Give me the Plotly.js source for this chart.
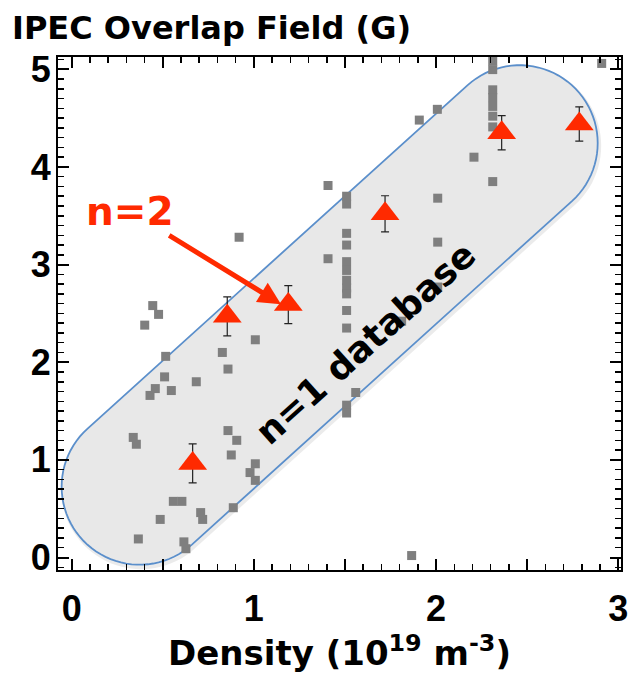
<!DOCTYPE html>
<html>
<head>
<meta charset="utf-8">
<script src="https://cdn.plot.ly/plotly-3.0.1.min.js"></script>
<style>
  html, body { margin: 0; padding: 0; background: #fff; }
  #chart { width: 631px; height: 676px; }
</style>
</head>
<body>
<div id="chart"></div>
<script>
// n=1 database shots: density (1e19 m^-3) vs IPEC overlap field (G)
const dbDensity = [
  0.445, 0.477, 0.401, 0.516, 0.510, 0.459, 0.430, 0.547, 0.684, 0.338,
  0.355, 0.558, 0.605, 0.708, 0.719, 0.486, 0.366, 0.616, 0.627,
  0.858, 0.906, 0.876, 1.008, 0.979, 1.008, 0.887, 1.008, 0.827, 0.858, 0.919,
  1.509, 1.509, 1.509, 1.509, 1.509, 1.509, 1.509, 1.509, 1.509, 1.509, 1.509, 1.509, 1.509,
  1.559, 1.407, 1.407, 1.811, 2.009, 2.009, 2.009, 2.007, 1.908, 1.866,
  2.311, 2.311, 2.311, 2.311, 2.311, 2.311, 2.311, 2.311,
  2.208, 2.909
];
const dbField = [
  2.58, 2.49, 2.38, 2.06, 1.85, 1.73, 1.66, 1.71, 1.80, 1.23,
  1.16, 0.575, 0.575, 0.46, 0.39, 0.39, 0.19, 0.16, 0.09,
  1.30, 1.20, 1.05, 0.96, 0.87, 0.79, 0.51, 2.23, 2.10, 1.93, 3.28,
  3.70, 3.62, 3.32, 3.20, 3.03, 2.94, 2.84, 2.76, 2.70, 2.53, 2.35, 1.56, 1.48,
  1.69, 3.81, 3.06, 2.42, 3.68, 3.23, 2.77, 4.59, 4.48, 0.02,
  5.085, 4.997, 4.79, 4.71, 4.62, 4.52, 4.41, 3.85,
  4.10, 5.06
];

// n=2 measurements with error bars
const n2Density = [0.664, 0.854, 1.189, 1.720, 2.360, 2.786];
const n2Field   = [0.964, 2.470, 2.590, 3.520, 4.350, 4.440];
const n2Err     = [0.200, 0.200, 0.195, 0.185, 0.175, 0.175];

// axis ticks
const xLabelVals = [0, 1, 2, 3];
const xHalfVals  = [0.5, 1.5, 2.5];
const yTickVals  = [0, 1, 2, 3, 4, 5];

// database envelope: end-cap centres (data units) and cap radius (px)
const bandStart = [0.373, 0.725];
const bandEnd   = [2.459, 4.243];
const bandRadiusPx = 78;

const xRange = [-0.075, 3.015];
const yRange = [-0.128, 5.126];
const margin = {l: 58, r: 10, t: 57, b: 106};
const figW = 631, figH = 676;
const plotW = figW - margin.l - margin.r;
const plotH = figH - margin.t - margin.b;

// Rounded "stadium" outline built in screen space so the caps stay circular
function stadiumPath(c1, c2, r, offPx) {
  const sx = plotW / (xRange[1] - xRange[0]);
  const sy = plotH / (yRange[1] - yRange[0]);
  const ox = (offPx && offPx[0]) || 0, oy = (offPx && offPx[1]) || 0;
  const p1 = [c1[0] * sx + ox, c1[1] * sy - oy];
  const p2 = [c2[0] * sx + ox, c2[1] * sy - oy];
  const phi = Math.atan2(p2[1] - p1[1], p2[0] - p1[0]);
  const pts = [];
  for (let t = -90; t <= 90; t += 4) {
    const a = phi + t * Math.PI / 180;
    pts.push([p2[0] + r * Math.cos(a), p2[1] + r * Math.sin(a)]);
  }
  for (let t = -90; t <= 90; t += 4) {
    const a = phi + Math.PI + t * Math.PI / 180;
    pts.push([p1[0] + r * Math.cos(a), p1[1] + r * Math.sin(a)]);
  }
  return pts.map((p, i) => (i ? 'L' : 'M') + (p[0] / sx).toFixed(4) + ',' + (p[1] / sy).toFixed(4)).join(' ') + ' Z';
}

const traces = [
  {
    x: dbDensity, y: dbField,
    type: 'scatter', mode: 'markers',
    marker: {symbol: 'square', size: 9, color: '#7f7f7f'},
    hoverinfo: 'skip', showlegend: false
  },
  {
    x: n2Density, y: n2Field,
    type: 'scatter', mode: 'markers',
    marker: {symbol: 'triangle-up', size: 25, color: '#ff2a00'},
    error_y: {type: 'data', array: n2Err, visible: true, color: '#222222', thickness: 1.2, width: 4},
    hoverinfo: 'skip', showlegend: false
  },
  // carrier for the half-unit major ticks on the density axis
  {
    x: [xRange[0]], y: [yRange[0]], xaxis: 'x2', yaxis: 'y',
    type: 'scatter', mode: 'markers', marker: {opacity: 0},
    hoverinfo: 'skip', showlegend: false
  }
];

const axisCommon = {
  showgrid: false, zeroline: false,
  showline: true, linecolor: '#000', linewidth: 2,
  mirror: 'ticks',
  ticks: 'inside', ticklen: 11, tickwidth: 2, tickcolor: '#000',
  tickfont: {family: 'Liberation Sans, Arial, sans-serif', size: 36, weight: 700, color: '#000'},
  fixedrange: true
};

const layout = {
  width: figW, height: figH,
  margin: margin,
  paper_bgcolor: '#fff', plot_bgcolor: '#fff',
  showlegend: false,
  title: {
    text: 'IPEC Overlap Field (G)',
    xref: 'container', yref: 'container',
    x: 12 / figW, xanchor: 'left',
    y: 1 - 28 / figH, yanchor: 'middle',
    font: {family: 'DejaVu Sans, sans-serif', size: 32, weight: 700, color: '#000'}
  },
  xaxis: Object.assign({}, axisCommon, {
    range: xRange,
    tickmode: 'array', tickvals: xLabelVals,
    ticklabelstandoff: 6,
    minor: {dtick: 0.1, tick0: 0, ticks: 'inside', ticklen: 6, tickwidth: 1.5, tickcolor: '#000'},
    title: {
      text: 'Density (10<sup>19</sup> m<sup>-3</sup>)',
      font: {family: 'DejaVu Sans, sans-serif', size: 34, weight: 700, color: '#000'},
      standoff: 8
    }
  }),
  xaxis2: {
    overlaying: 'x', anchor: 'y', side: 'bottom',
    range: xRange, showgrid: false, zeroline: false, showline: false,
    tickmode: 'array', tickvals: xHalfVals, showticklabels: false,
    ticks: 'inside', ticklen: 11, tickwidth: 2, tickcolor: '#000',
    mirror: 'ticks', fixedrange: true
  },
  yaxis: Object.assign({}, axisCommon, {
    range: yRange,
    tickmode: 'array', tickvals: yTickVals,
    ticklabelstandoff: -2,
    minor: {dtick: 0.1, tick0: 0, ticks: 'inside', ticklen: 6, tickwidth: 1.5, tickcolor: '#000'}
  }),
  shapes: [
    {
      type: 'path', xref: 'x', yref: 'y', layer: 'below',
      path: stadiumPath(bandStart, bandEnd, bandRadiusPx, [1.5, 2.5]),
      line: {color: 'rgba(0,0,0,0.08)', width: 4},
      fillcolor: 'rgba(0,0,0,0)'
    },
    {
      type: 'path', xref: 'x', yref: 'y', layer: 'below',
      path: stadiumPath(bandStart, bandEnd, bandRadiusPx),
      line: {color: '#5b8fcb', width: 1.8},
      fillcolor: '#e8e8e8'
    }
  ],
  annotations: [
    {
      // label plus arrow pointing at the n=2 point
      text: 'n=2', xref: 'x', yref: 'y', x: 1.149, y: 2.595,
      axref: 'x', ayref: 'y', ax: 0.321, ay: 3.545,
      showarrow: true, arrowhead: 2, arrowsize: 0.9, arrowwidth: 5, arrowcolor: '#ff2a00',
      font: {family: 'DejaVu Sans, sans-serif', size: 39, weight: 700, color: '#ff2a00'}
    },
    {
      text: 'n=1 database', xref: 'x', yref: 'y', x: 1.61, y: 2.195,
      showarrow: false, textangle: -42,
      font: {family: 'DejaVu Sans, sans-serif', size: 36, weight: 700, color: '#000'}
    }
  ]
};

Plotly.newPlot('chart', traces, layout, {staticPlot: true, displayModeBar: false});
</script>
</body>
</html>
